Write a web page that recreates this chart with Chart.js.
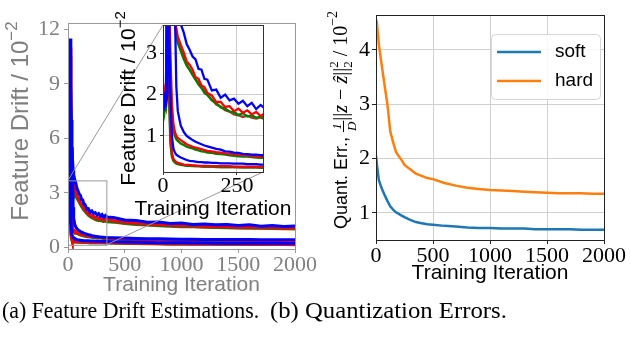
<!DOCTYPE html>
<html>
<head>
<meta charset="utf-8">
<script src="https://cdn.jsdelivr.net/npm/chart.js@4.4.1/dist/chart.umd.min.js"></script>
<style>
  html, body { margin: 0; padding: 0; background: #fff; }
  body { width: 631px; height: 339px; position: relative; overflow: hidden; }
  canvas { position: absolute; }
  #main { left: 0; top: 0; }
  #inset { left: 100px; top: 0; }
  #quant { left: 320px; top: 0; }
  .cap { position: absolute; top: 298px; font-family: "Liberation Serif", "Times New Roman", serif;
         font-size: 24px; line-height: 24px; white-space: nowrap; transform-origin: 0 0; color: #000; }
  #capA { left: 2px; transform: scaleX(0.91); }
  #capB { left: 270px; transform: scaleX(1.03); }
</style>
</head>
<body>
<canvas id="main" width="320" height="300"></canvas>
<canvas id="inset" width="210" height="235"></canvas>
<canvas id="quant" width="311" height="300"></canvas>
<div class="cap" id="capA">(a) Feature Drift Estimations.</div>
<div class="cap" id="capB">(b) Quantization Errors.</div>
<script>
// ---- data ----
const driftIter = [0,5,10,15,20,25,30,35,40,45,50, 60,70,80,90,100,110,120,130,140,150,
  165,180,195,210,225,240,255,270,285,300,315,330,345,
  400,500,600,700,800,900,1000,1100,1200,1300,1400,1500,1600,1700,1800,1900,2000];

const upperBlue = [1.75,1.9,2.1,6.5,11.5,9.0,7.0,5.6,4.8,4.3,4.0, 3.7,3.5,3.22,3.08,2.92,2.85,2.62,2.6,2.38,2.36,
  2.1,2.12,1.92,2.0,1.86,1.9,1.78,1.85,1.72,1.8,1.65,1.75,1.66,
  1.64,1.5,1.47,1.38,1.39,1.3,1.33,1.25,1.28,1.24,1.25,1.19,1.23,1.16,1.2,1.14,1.17];
const upperRed = [1.9,2.0,1.8,4.0,11.0,7.5,5.5,4.5,3.9,3.6,3.4, 3.2,3.02,2.8,2.72,2.6,2.42,2.38,2.22,2.18,2.04,
  1.98,1.82,1.82,1.7,1.72,1.6,1.66,1.56,1.62,1.52,1.58,1.48,1.56,
  1.47,1.39,1.33,1.28,1.26,1.22,1.2,1.18,1.16,1.14,1.13,1.1,1.11,1.08,1.08,1.06,1.06];
const upperGreen = [1.6,1.7,2.0,6.4,5.5,5.0,4.6,4.2,3.7,3.4,3.25, 3.05,2.86,2.7,2.6,2.47,2.36,2.24,2.16,2.04,1.99,
  1.86,1.79,1.69,1.66,1.59,1.58,1.51,1.55,1.47,1.5,1.44,1.47,1.42,
  1.41,1.33,1.28,1.24,1.21,1.18,1.15,1.14,1.12,1.1,1.09,1.07,1.06,1.06,1.04,1.03,1.02];
const upperBrown = [1.8,1.65,1.9,3.0,10.5,7.0,5.2,4.3,3.8,3.5,3.3, 3.1,2.9,2.73,2.6,2.51,2.37,2.28,2.17,2.09,2.0,
  1.88,1.76,1.71,1.62,1.59,1.52,1.5,1.46,1.49,1.44,1.42,1.45,1.4,
  1.38,1.3,1.25,1.22,1.18,1.16,1.13,1.12,1.1,1.08,1.07,1.06,1.05,1.04,1.03,1.02,1.01];
const midBlue = [1.7,1.8,1.75,2.0,4.5,6.0,5.5,5.0,4.2,2.2,1.6, 1.25,1.1,1.0,0.95,0.9,0.86,0.83,0.8,0.77,0.75,
  0.72,0.69,0.67,0.63,0.62,0.6,0.59,0.57,0.56,0.55,0.55,0.54,0.53,
  0.52,0.5,0.48,0.47,0.46,0.45,0.44,0.44,0.43,0.43,0.42,0.42,0.42,0.41,0.41,0.41,0.41];
const midRed = [2.0,1.85,2.1,3.5,5.0,3.0,1.8,1.3,1.1,1.0,0.95, 0.9,0.85,0.8,0.77,0.74,0.72,0.7,0.68,0.66,0.64,
  0.63,0.61,0.6,0.58,0.57,0.56,0.55,0.54,0.53,0.52,0.51,0.5,0.5,
  0.48,0.46,0.44,0.43,0.42,0.41,0.4,0.4,0.39,0.39,0.38,0.38,0.38,0.37,0.37,0.37,0.36];
const midGreen = [1.65,1.9,1.6,4.5,3.8,2.5,1.5,1.15,1.0,0.92,0.88, 0.82,0.78,0.74,0.72,0.7,0.67,0.65,0.63,0.62,0.6,
  0.59,0.57,0.56,0.55,0.53,0.52,0.51,0.5,0.5,0.49,0.48,0.47,0.47,
  0.45,0.43,0.41,0.4,0.39,0.38,0.38,0.37,0.37,0.36,0.36,0.35,0.35,0.35,0.34,0.34,0.34];
const lowBlue = [1.8,1.7,1.95,2.5,4.0,2.0,1.0,0.7,0.6,0.55,0.52, 0.48,0.45,0.42,0.4,0.39,0.38,0.37,0.37,0.36,0.36,
  0.35,0.35,0.34,0.34,0.34,0.33,0.33,0.33,0.32,0.32,0.32,0.31,0.31,
  0.3,0.28,0.27,0.26,0.25,0.24,0.24,0.23,0.23,0.22,0.22,0.22,0.21,0.21,0.21,0.2,0.2];
const lowRed = [1.7,2.05,1.8,3.8,2.5,1.0,0.6,0.45,0.4,0.37,0.35, 0.33,0.31,0.3,0.3,0.29,0.29,0.28,0.28,0.28,0.28,
  0.27,0.27,0.27,0.27,0.27,0.26,0.26,0.26,0.26,0.26,0.26,0.26,0.26,
  0.25,0.23,0.22,0.21,0.2,0.19,0.19,0.18,0.18,0.17,0.17,0.17,0.16,0.16,0.16,0.15,0.15];
const lowGreen = [1.9,1.6,2.0,3.2,2.0,0.8,0.5,0.4,0.36,0.33,0.32, 0.3,0.29,0.28,0.28,0.27,0.27,0.27,0.26,0.26,0.26,
  0.26,0.25,0.25,0.25,0.25,0.25,0.25,0.24,0.24,0.24,0.24,0.24,0.24,
  0.23,0.22,0.21,0.2,0.19,0.18,0.18,0.17,0.17,0.17,0.16,0.16,0.16,0.15,0.15,0.15,0.15];
const lowBrown = [1.75,1.85,1.7,2.8,3.0,1.2,0.55,0.42,0.38,0.35,0.33, 0.31,0.3,0.29,0.28,0.28,0.27,0.27,0.27,0.26,0.26,
  0.26,0.26,0.25,0.25,0.25,0.25,0.24,0.24,0.24,0.24,0.24,0.23,0.23,
  0.23,0.21,0.2,0.19,0.19,0.18,0.17,0.17,0.17,0.16,0.16,0.16,0.15,0.15,0.15,0.15,0.14];

const quantIter = [0,10,25,50,75,100,125,150,175,200,225,250,300,350,400,450,500,
  600,700,800,900,1000,1100,1200,1300,1400,1500,1600,1700,1800,1900,2000];
const softErr = [2.05,1.85,1.6,1.45,1.33,1.22,1.12,1.06,1.01,0.98,0.95,0.92,0.87,0.83,0.81,0.79,0.78,
  0.76,0.75,0.73,0.72,0.72,0.71,0.71,0.71,0.7,0.7,0.7,0.7,0.69,0.69,0.69];
const hardErr = [4.38,4.45,4.1,3.72,3.35,3.0,2.5,2.3,2.12,2.04,1.97,1.88,1.8,1.72,1.68,1.64,1.62,
  1.55,1.5,1.46,1.44,1.42,1.41,1.4,1.39,1.38,1.37,1.36,1.36,1.36,1.35,1.35];

const mainXTicks = [0, 500, 1000, 1500, 2000];
const mainYTicks = [0, 3, 6, 9, 12];
const insetXTicks = [0, 250];
const insetYTicks = [1, 2, 3];
const quantXTicks = [0, 500, 1000, 1500, 2000];
const quantYTicks = [1, 2, 3, 4];
const insetXRange = [0, 338];
const insetYRange = [0.13, 3.68];

// ---- helpers ----
const SANS = '"Liberation Sans", Arial, sans-serif';
const SERIF = '"Liberation Serif", "Times New Roman", serif';
const GRAY = '#808080';
Chart.defaults.font.family = SERIF;

function pts(xs, ys) { return xs.map((x, i) => ({ x: x, y: ys[i] })); }

function driftSets(width) {
  const list = [
    [upperBlue, '#0000ff'], [midBlue, '#0000ff'], [lowBlue, '#0000ff'],
    [upperRed, '#ff0000'], [midRed, '#ff0000'], [lowRed, '#ff0000'],
    [upperGreen, '#008000'], [midGreen, '#008000'], [lowGreen, '#008000'],
    [upperBrown, '#9a3b2a'], [lowBrown, '#9a3b2a']
  ];
  return list.map(([ys, c]) => ({
    data: pts(driftIter, ys), borderColor: c, borderWidth: width,
    pointRadius: 0, tension: 0, fill: false
  }));
}

function fixedTicks(vals) {
  return s => { s.ticks = vals.map(v => ({ value: v })); };
}

function richWidth(ctx, parts) {
  let w = 0;
  for (const p of parts) {
    ctx.font = p.font;
    if (p.frac) w += Math.max(ctx.measureText(p.frac[0]).width, ctx.measureText(p.frac[1]).width) + 2;
    else if (!p.stay) w += ctx.measureText(p.t).width;
  }
  return w;
}

// draws text pieces centred on (x, y); vertical = rotated like a y-axis title
function drawRich(ctx, parts, x, y, vertical, color) {
  ctx.save();
  ctx.translate(x, y);
  if (vertical) ctx.rotate(-Math.PI / 2);
  ctx.fillStyle = color;
  ctx.textBaseline = 'alphabetic';
  let cx = -richWidth(ctx, parts) / 2;
  for (const p of parts) {
    ctx.font = p.font;
    if (p.frac) {
      const fw = Math.max(ctx.measureText(p.frac[0]).width, ctx.measureText(p.frac[1]).width);
      ctx.textAlign = 'center';
      ctx.fillText(p.frac[0], cx + fw / 2 + 1, -p.up);
      ctx.fillText(p.frac[1], cx + fw / 2 + 1, p.down);
      ctx.fillRect(cx, -p.bar, fw + 2, 1);
      ctx.textAlign = 'left';
      cx += fw + 2;
    } else {
      ctx.textAlign = 'left';
      ctx.fillText(p.t, cx, p.dy || 0);
      if (!p.stay) cx += ctx.measureText(p.t).width;
    }
  }
  ctx.restore();
}

function frame(ctx, a, color) {
  ctx.save();
  ctx.strokeStyle = color;
  ctx.lineWidth = 1;
  ctx.strokeRect(Math.round(a.left) + 0.5, Math.round(a.top) + 0.5,
    Math.round(a.right - a.left), Math.round(a.bottom - a.top));
  ctx.restore();
}

function axisOpts(tickVals, min, max, color, fontSize, pad, fitSize, isX) {
  return {
    type: 'linear', min: min, max: max,
    afterBuildTicks: fixedTicks(tickVals),
    afterFit: s => { if (isX) s.height = fitSize; else s.width = fitSize; },
    ticks: { color: color, padding: pad, maxRotation: 0, autoSkip: false,
      font: { family: SERIF, size: fontSize, lineHeight: 1 },
      callback: v => String(v) },
    border: { display: false },
    title: { display: false }
  };
}

// ---- inset (zoomed view) ----
const insetDecor = {
  id: 'insetDecor',
  afterDraw(chart) {
    const ctx = chart.ctx, a = chart.chartArea;
    frame(ctx, a, '#333');
    drawRich(ctx, [
      { t: 'Feature Drift / 10', font: `21px ${SANS}` },
      { t: '\u22122', font: `15px ${SANS}`, dy: -10 }
    ], 35, (a.top + a.bottom) / 2, true, '#000');
    ctx.save();
    ctx.font = `21px ${SANS}`;
    ctx.fillStyle = '#000';
    ctx.textAlign = 'center';
    ctx.fillText('Training Iteration', (a.left + a.right) / 2, 215);
    ctx.restore();
  }
};

const insetX = axisOpts(insetXTicks, insetXRange[0], insetXRange[1], '#000', 22, 0, 63, true);
insetX.grid = { color: '#cccccc', tickColor: '#333', tickLength: 3 };
const insetY = axisOpts(insetYTicks, insetYRange[0], insetYRange[1], '#000', 22, 3, 63, false);
insetY.grid = { color: '#cccccc', tickColor: '#333', tickLength: 3 };

const insetChart = new Chart(document.getElementById('inset'), {
  type: 'line',
  data: { datasets: driftSets(2.3) },
  options: {
    responsive: false, animation: false, events: [],
    layout: { padding: { left: 0, top: 25, right: 47, bottom: 0 }, autoPadding: false },
    plugins: { legend: { display: false }, tooltip: { enabled: false } },
    scales: { x: insetX, y: insetY }
  },
  plugins: [insetDecor]
});

// ---- main drift chart ----
const mainDecor = {
  id: 'mainDecor',
  afterDraw(chart) {
    const ctx = chart.ctx, a = chart.chartArea, sx = chart.scales.x, sy = chart.scales.y;
    frame(ctx, a, '#999');
    const x0 = sx.getPixelForValue(insetXRange[0]), x1 = sx.getPixelForValue(insetXRange[1]);
    const y0 = sy.getPixelForValue(insetYRange[0]), y1 = sy.getPixelForValue(insetYRange[1]);
    const ia = insetChart.chartArea, off = 100;
    ctx.save();
    ctx.strokeStyle = '#999';
    ctx.lineWidth = 1;
    ctx.strokeRect(x0 + 0.5, y1 + 0.5, x1 - x0, y0 - y1);
    ctx.beginPath();
    ctx.moveTo(x0, y1); ctx.lineTo(ia.left + off, ia.top);
    ctx.moveTo(x1, y0); ctx.lineTo(ia.right + off, ia.bottom);
    ctx.stroke();
    ctx.font = `21px ${SANS}`;
    ctx.fillStyle = GRAY;
    ctx.textAlign = 'center';
    ctx.fillText('Training Iteration', (a.left + a.right) / 2, 291);
    ctx.restore();
    drawRich(ctx, [
      { t: 'Feature Drift / 10', font: `24px ${SANS}` },
      { t: '\u22122', font: `17px ${SANS}`, dy: -11 }
    ], 28, 121, true, GRAY);
  }
};

const mainX = axisOpts(mainXTicks, 0, 2000, GRAY, 22, 1, 51, true);
mainX.grid = { display: true, drawOnChartArea: false, tickColor: '#999', tickLength: 4 };
const mainY = axisOpts(mainYTicks, -0.1, 12.35, GRAY, 22, 4, 68, false);
mainY.grid = { display: true, drawOnChartArea: false, tickColor: '#999', tickLength: 4 };

new Chart(document.getElementById('main'), {
  type: 'line',
  data: { datasets: driftSets(3) },
  options: {
    responsive: false, animation: false, events: [],
    layout: { padding: { left: 0, top: 23, right: 25, bottom: 0 }, autoPadding: false },
    plugins: { legend: { display: false }, tooltip: { enabled: false } },
    scales: { x: mainX, y: mainY }
  },
  plugins: [mainDecor]
});

// ---- quantization error chart ----
const quantDecor = {
  id: 'quantDecor',
  afterDraw(chart) {
    const ctx = chart.ctx, a = chart.chartArea;
    frame(ctx, a, '#222');
    // legend box
    const w = 109, h = 65, lx = a.right - 4 - w, ly = a.top + 19;
    ctx.save();
    ctx.fillStyle = 'rgba(255,255,255,0.85)';
    ctx.strokeStyle = '#d6d6d6';
    ctx.lineWidth = 1;
    ctx.beginPath();
    ctx.roundRect(lx + 0.5, ly + 0.5, w, h, 4);
    ctx.fill();
    ctx.stroke();
    ctx.font = `19px ${SANS}`;
    ctx.textBaseline = 'middle';
    chart.data.datasets.forEach((ds, i) => {
      const yy = ly + 18 + i * 29;
      ctx.strokeStyle = ds.borderColor;
      ctx.lineWidth = 2.5;
      ctx.beginPath();
      ctx.moveTo(lx + 6, yy); ctx.lineTo(lx + 50, yy);
      ctx.stroke();
      ctx.fillStyle = '#000';
      ctx.fillText(ds.label, lx + 64, yy);
    });
    ctx.textBaseline = 'alphabetic';
    ctx.font = `21px ${SANS}`;
    ctx.textAlign = 'center';
    ctx.fillText('Training Iteration', (a.left + a.right) / 2, 279);
    ctx.restore();
    drawRich(ctx, [
      { t: 'Quant. Err., ', font: `18px ${SANS}` },
      { frac: ['1', 'D'], font: `italic 13px ${SERIF}`, up: 6, down: 9, bar: 4 },
      { t: '||', font: `20px ${SERIF}` },
      { t: 'z', font: `italic 20px ${SERIF}` },
      { t: ' \u2212 ', font: `20px ${SERIF}` },
      { t: '\u1E91', font: `italic 20px ${SERIF}` },
      { t: '||', font: `20px ${SERIF}` },
      { t: '2', font: `13px ${SERIF}`, dy: -9, stay: true },
      { t: '2', font: `13px ${SERIF}`, dy: 5 },
      { t: ' / 10', font: `20px ${SERIF}` },
      { t: '\u22122', font: `14px ${SERIF}`, dy: -10 }
    ], 27, 120, true, '#000');
  }
};

const quantX = axisOpts(quantXTicks, 0, 2000, '#000', 22, 1, 60, true);
quantX.grid = { color: '#d0d0d0', tickColor: '#222', tickLength: 4 };
const quantY = axisOpts(quantYTicks, 0.5, 4.64, '#000', 22, 2, 56, false);
quantY.grid = { color: '#d0d0d0', tickColor: '#222', tickLength: 4 };

new Chart(document.getElementById('quant'), {
  type: 'line',
  data: {
    datasets: [
      { label: 'soft', data: pts(quantIter, softErr), borderColor: '#1f77b4', borderWidth: 2.5, pointRadius: 0, tension: 0 },
      { label: 'hard', data: pts(quantIter, hardErr), borderColor: '#ff7f0e', borderWidth: 2.5, pointRadius: 0, tension: 0 }
    ]
  },
  options: {
    responsive: false, animation: false, events: [],
    layout: { padding: { left: 0, top: 15, right: 27, bottom: 0 }, autoPadding: false },
    plugins: { legend: { display: false }, tooltip: { enabled: false } },
    scales: { x: quantX, y: quantY }
  },
  plugins: [quantDecor]
});
</script>
</body>
</html>
